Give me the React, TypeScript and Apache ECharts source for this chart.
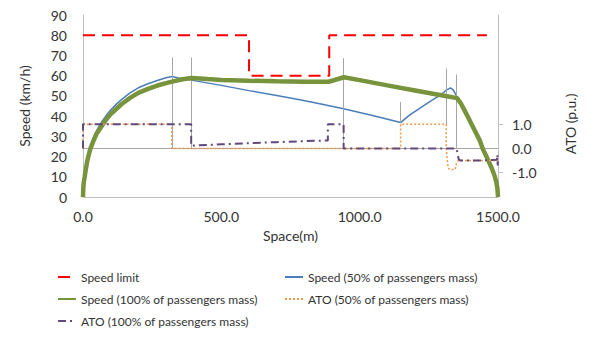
import React, { useEffect, useRef } from "react";
import * as echarts from "echarts";

const FONT = 'Lato, "Open Sans", sans-serif';
const TXT = "#333333";
const AXIS = "#BFBFBF";

const seriesNames = [
  "Speed limit",
  "Speed (50% of passengers mass)",
  "Speed (100% of passengers mass)",
  "ATO (50% of passengers mass)",
  "ATO (100% of passengers mass)",
];

const speedLimit: [number, number][] = [
  [0, 80], [600, 80], [600, 60], [890, 60], [890, 80], [1460, 80],
];

const speed50: [number, number][] = [
  [0, 0], [1, 4.5], [3, 8], [6, 11], [10, 14.5], [15, 18.5], [20, 21.5], [27, 25],
  [37, 29], [48, 32.5], [60, 35.5], [72, 38], [85, 40.5], [100, 43], [120, 45.8],
  [140, 48.3], [170, 51.5], [200, 54], [235, 56], [266, 57.5], [300, 59], [321, 59.6],
  [345, 58.8], [391, 57.8], [500, 55.2], [600, 52.6], [700, 50.2], [784, 48.1],
  [860, 46], [942, 43.6], [1050, 40.2], [1148, 36.8], [1180, 40.5], [1218, 44],
  [1255, 47.3], [1290, 50.3], [1315, 53], [1328, 54], [1338, 53], [1348, 50.5],
  [1357, 48.6], [1365, 46.5], [1386, 41], [1410, 34.5], [1434, 28], [1446, 23.5],
  [1460, 19.5], [1476, 14.7], [1488, 10.4], [1494, 7.3], [1498, 4.2], [1500, 0],
];

const speed100: [number, number][] = [
  [0, 0], [1, 4.3], [3, 7.5], [6, 10], [10, 13.5], [15, 17.5], [20, 20.5], [27, 24],
  [37, 27.5], [48, 31], [60, 33.5], [72, 36], [85, 38.5], [100, 41], [120, 43.5],
  [140, 46], [170, 49], [200, 51.5], [235, 53.5], [266, 55], [300, 56.3], [330, 57.3],
  [360, 58.2], [392, 58.8], [450, 58.3], [500, 57.9], [600, 57.5], [700, 57.2],
  [800, 57], [888, 57], [943, 59.2], [1000, 57.8], [1100, 55.2], [1200, 52.7],
  [1300, 50.2], [1352, 48.9], [1365, 46.5], [1386, 41], [1410, 34.5], [1434, 28],
  [1446, 23.5], [1460, 19.5], [1476, 14.7], [1488, 10.4], [1494, 7.3], [1498, 4.2],
  [1500, 0],
];

const ato50: [number, number][] = [
  [0, 0], [0, 1], [321, 1], [321, 0], [1148, 0], [1148, 1], [1313, 1], [1313, 0],
  [1316, -0.4], [1320, -0.8], [1325, -0.87], [1345, -0.87], [1350, -0.6],
  [1356, -0.5], [1500, -0.5],
];

const ato100: [number, number][] = [
  [0, 0], [0, 1], [391, 1], [391, 0.1], [400, 0.12], [500, 0.17], [600, 0.22],
  [700, 0.26], [800, 0.3], [885, 0.33], [885, 1], [942, 1], [942, 0], [1350, 0],
  [1354, -0.2], [1358, -0.45], [1365, -0.5], [1420, -0.5], [1496, -0.47],
  [1498, -0.25], [1499, -0.7], [1500, -0.45],
];

// switching marks (x in m, low/high in km/h)
const switchX = [321, 391, 942, 1148, 1313, 1350];
const switchLow = [24, 24, 24, 36.8, 36, 24];
const switchHigh = [69, 69, 68.6, 47, 63.5, 60.6];

const xTicks = { min: 0, max: 1500, interval: 500 };
const atoLabels = [-1, 0, 1];

export default function App() {
  const ref = useRef<HTMLDivElement>(null);
  useEffect(() => {
    if (!ref.current) return;
    const chart = echarts.init(ref.current, undefined, { renderer: "svg" });
    const switchLines = switchX.map((x, i) => [
      { coord: [x, switchLow[i]] },
      { coord: [x, switchHigh[i]] },
    ]);
    const legendText = { fontFamily: FONT, fontSize: 12, color: TXT };
    const legendBase = {
      orient: "vertical", itemGap: 10, itemWidth: 18, itemHeight: 14, padding: 0,
      itemStyle: { opacity: 0 },
      textStyle: legendText,
    };
    chart.setOption({
      animation: false,
      textStyle: { fontFamily: FONT },
      grid: { left: 83, right: 107, top: 15, bottom: 140, containLabel: false },
      legend: [
        { ...legendBase, left: 57, top: 271, data: [seriesNames[0], seriesNames[2], seriesNames[4]] },
        { ...legendBase, left: 284, top: 271, data: [seriesNames[1], seriesNames[3]] },
      ],
      xAxis: {
        type: "value",
        min: xTicks.min, max: xTicks.max, interval: xTicks.interval,
        axisLine: { show: true, onZero: false, lineStyle: { color: AXIS, width: 1 } },
        axisTick: { show: false },
        splitLine: { show: false },
        axisLabel: { formatter: (v: number) => v.toFixed(1), color: TXT, fontSize: 14, margin: 12, fontFamily: FONT },
        name: "Space(m)", nameLocation: "middle", nameGap: 31,
        nameTextStyle: { fontSize: 14, color: TXT, fontFamily: FONT },
      },
      yAxis: [
        {
          type: "value", min: 0, max: 90, interval: 10,
          axisLine: { show: true, onZero: false, lineStyle: { color: AXIS, width: 1 } },
          axisTick: { show: false },
          splitLine: { show: false },
          axisLabel: { color: TXT, fontSize: 14, margin: 16, fontFamily: FONT },
          name: "Speed (km/h)", nameLocation: "middle", nameRotate: 90, nameGap: 52,
          nameTextStyle: { fontSize: 14, color: TXT, fontFamily: FONT },
        },
        {
          type: "value", position: "right", min: -2, max: 5.5,
          axisLine: { show: true, onZero: false, lineStyle: { color: AXIS, width: 1 } },
          axisTick: { show: true, customValues: [-1, 1], length: 5, lineStyle: { color: AXIS } },
          splitLine: { show: false },
          axisLabel: {
            customValues: atoLabels,
            formatter: (v: number) => v.toFixed(1),
            color: TXT, fontSize: 14, margin: 14, fontFamily: FONT,
          },
          name: "ATO (p.u.)", nameLocation: "middle", nameRotate: 90, nameGap: 65,
          nameTextStyle: { fontSize: 14, color: TXT, fontFamily: FONT, padding: [0, 36, 0, 0] },
        },
      ],
      series: [
        {
          name: seriesNames[0], type: "line", data: speedLimit, symbol: "none",
          lineStyle: { color: "#FF0000", width: 2, type: [12, 7] },
          itemStyle: { color: "#FF0000" },
          z: 3,
          markLine: {
            silent: true, symbol: "none", label: { show: false },
            lineStyle: { color: "#A6A6A6", width: 1, type: "solid" },
            data: switchLines,
          },
        },
        {
          name: seriesNames[1], type: "line", data: speed50, symbol: "none",
          lineStyle: { color: "#4A7EBB", width: 1.5 },
          itemStyle: { color: "#4A7EBB" },
          z: 4,
        },
        {
          name: seriesNames[2], type: "line", data: speed100, symbol: "none",
          lineStyle: { color: "#77933C", width: 4.5 },
          itemStyle: { color: "#77933C" },
          z: 5,
        },
        {
          name: seriesNames[3], type: "line", yAxisIndex: 1, data: ato50, symbol: "none",
          lineStyle: { color: "#F79646", width: 1.5, type: [2, 2] },
          itemStyle: { color: "#F79646" },
          z: 6,
          markLine: {
            silent: true, symbol: "none", label: { show: false },
            lineStyle: { color: "#A6A6A6", width: 1, type: "solid" },
            data: [{ yAxis: 0 }],
          },
        },
        {
          name: seriesNames[4], type: "line", yAxisIndex: 1, data: ato100, symbol: "none",
          lineStyle: { color: "#604A7B", width: 2, type: [8, 4, 2, 4] },
          itemStyle: { color: "#604A7B" },
          z: 7,
        },
      ],
    });
    return () => chart.dispose();
  }, []);
  return (
    <div
      ref={ref}
      style={{ position: "fixed", left: 0, top: 0, width: 605, height: 337, background: "#fff" }}
    />
  );
}
